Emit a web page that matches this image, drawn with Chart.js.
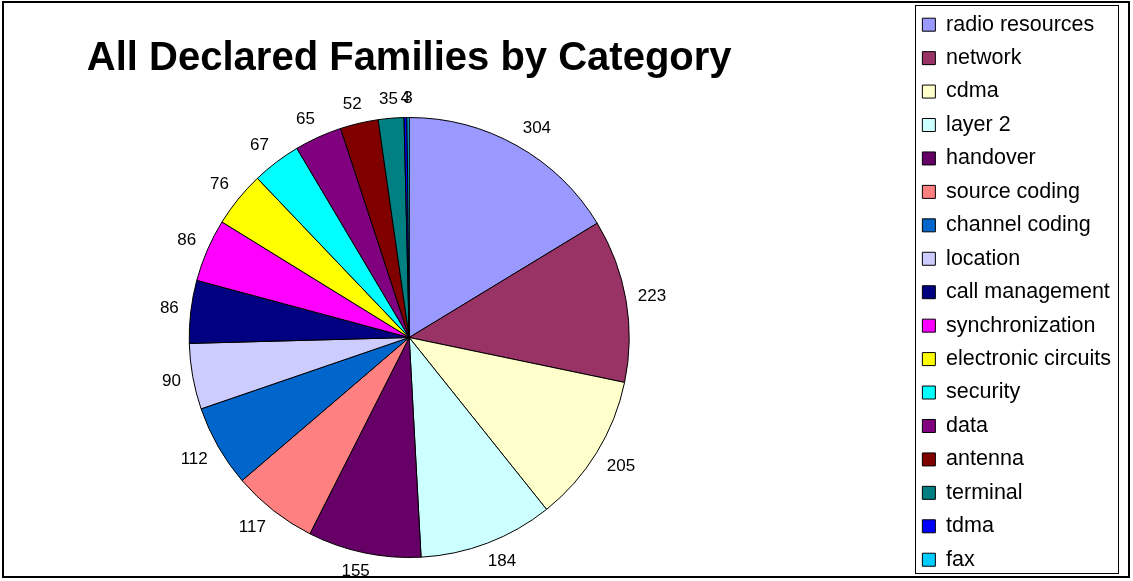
<!DOCTYPE html>
<html>
<head>
<meta charset="utf-8">
<title>All Declared Families by Category</title>
<script src="https://cdn.jsdelivr.net/npm/chart.js@4.4.1/dist/chart.umd.min.js"></script>
<style>
  html, body { margin: 0; padding: 0; background: #fff; overflow: hidden; }
  #wrap { position: relative; width: 1133px; height: 581px; overflow: hidden; }
  /* the plot runs a little past the frame on the left and bottom */
  #plot { position: absolute; left: -92px; top: 0; width: 1225px; height: 592px; }
  #frame {
    position: absolute; left: 2px; top: 1px; width: 1124px; height: 573px;
    border: 2px solid #000; pointer-events: none;
  }
</style>
</head>
<body>
<div id="wrap">
  <div id="plot"><canvas id="familiesChart"></canvas></div>
  <div id="frame"></div>
</div>
<script>
const chartTitle = "All Declared Families by Category";

const categories = [
  "radio resources", "network", "cdma", "layer 2", "handover",
  "source coding", "channel coding", "location", "call management",
  "synchronization", "electronic circuits", "security", "data",
  "antenna", "terminal", "tdma", "fax"
];

const familyCounts = [304, 223, 205, 184, 155, 117, 112, 90, 86, 86, 76, 67, 65, 52, 35, 4, 3];

const sliceColors = [
  "#9999FF", "#993366", "#FFFFCC", "#CCFFFF", "#660066",
  "#FF8080", "#0066CC", "#CCCCFF", "#000080", "#FF00FF",
  "#FFFF00", "#00FFFF", "#800080", "#800000", "#008080",
  "#0000FF", "#00CCFF"
];

const fontFamily = '"Liberation Sans", Arial, sans-serif';
Chart.defaults.font.family = fontFamily;
Chart.defaults.color = "#000";

// counts written just outside the rim, pushed away on the side they sit
const sliceLabels = {
  id: "sliceLabels",
  afterDatasetsDraw(chart) {
    const ctx = chart.ctx;
    const meta = chart.getDatasetMeta(0);
    const values = chart.data.datasets[0].data;
    const push = v => Math.max(-1, Math.min(1, v * 2));
    ctx.save();
    ctx.font = "17px " + fontFamily;
    ctx.fillStyle = "#000";
    ctx.textAlign = "center";
    ctx.textBaseline = "middle";
    meta.data.forEach((arc, i) => {
      const p = arc.getProps(["x", "y", "startAngle", "endAngle", "outerRadius"], true);
      const mid = (p.startAngle + p.endAngle) / 2;
      const dx = Math.cos(mid), dy = Math.sin(mid);
      const text = String(values[i]);
      const w = ctx.measureText(text).width;
      const r = p.outerRadius + 12;
      ctx.fillText(text, p.x + dx * r + push(dx) * w / 2, p.y + dy * r + push(dy) * 7);
    });
    ctx.restore();
  }
};

// box round the legend
const legendBox = {
  id: "legendBox",
  afterDraw(chart) {
    const ctx = chart.ctx;
    const legend = chart.legend;
    const hits = legend.legendHitBoxes;
    const first = hits[0], last = hits[hits.length - 1];
    const x0 = Math.round(first.left) - 6.5;
    const x1 = Math.round(legend.right) - 2.5;
    const y0 = Math.round(first.top) - 8.5;
    const y1 = Math.round(last.top + last.height) + 3.5;
    ctx.save();
    ctx.strokeStyle = "#000";
    ctx.lineWidth = 1;
    ctx.strokeRect(x0, y0, x1 - x0, y1 - y0);
    ctx.restore();
  }
};

new Chart(document.getElementById("familiesChart"), {
  type: "pie",
  data: {
    labels: categories,
    datasets: [{
      data: familyCounts,
      backgroundColor: sliceColors,
      borderColor: "#000",
      borderWidth: 1,
      radius: 220
    }]
  },
  options: {
    responsive: true,
    maintainAspectRatio: false,
    animation: false,
    events: [],
    layout: { padding: { left: 0, right: 12, top: 2, bottom: 0 } },
    plugins: {
      title: {
        display: true,
        text: chartTitle,
        fullSize: false,
        color: "#000",
        font: { size: 40, weight: "bold", lineHeight: 1.2 },
        padding: { top: 33, bottom: 0 }
      },
      legend: {
        position: "right",
        align: "start",
        labels: {
          color: "#000",
          font: { size: 21.5 },
          boxWidth: 13,
          boxHeight: 13,
          padding: 11.94
        }
      },
      tooltip: { enabled: false }
    }
  },
  plugins: [sliceLabels, legendBox]
});
</script>
</body>
</html>
